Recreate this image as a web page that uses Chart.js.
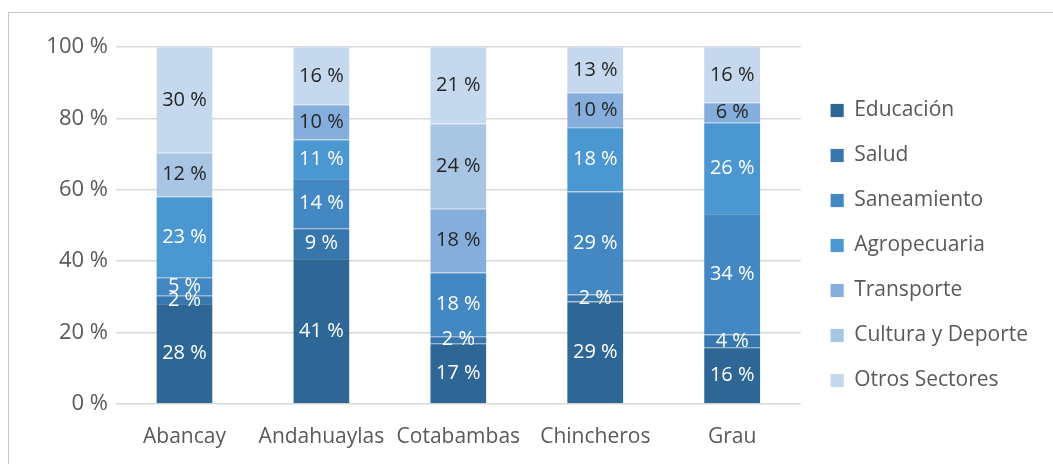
<!DOCTYPE html>
<html>
<head>
<meta charset="utf-8">
<script src="https://cdn.jsdelivr.net/npm/chart.js@4"></script>
<style>
	html, body { margin:0; padding:0; background:#fff; overflow:hidden; }
	#box { position:absolute; left:8px; top:12px; width:1044px; height:451px;
		border-top:1px solid #c6c6c6; border-left:1px solid #c6c6c6; }
</style>
</head>
<body>
<div id="box"><canvas id="myChart"></canvas></div>
<script>
var categories = ['Abancay', 'Andahuaylas', 'Cotabambas', 'Chincheros', 'Grau'];
var educacion    = [28.0, 40.6, 17.0, 28.7, 15.9];
var salud        = [2.3, 8.6, 2.0, 2.0, 3.6];
var saneamiento  = [5.2, 13.8, 17.8, 28.8, 33.7];
var agropecuaria = [22.6, 11.1, 0, 18.0, 25.6];
var transporte   = [0, 9.7, 17.9, 9.7, 5.6];
var cultura      = [12.3, 0, 23.9, 0, 0];
var otros        = [29.6, 16.2, 21.4, 12.8, 15.6];
var yTicks = [0, 20, 40, 60, 80, 100];

var fontFamily = "'Open Sans', sans-serif";
var textColor = '#595959';

function serie(label, data, color, edge, labelColor){
	return {
		label : label,
		data : data,
		backgroundColor : color,
		borderColor : edge,
		borderWidth : {top:1, bottom:0, left:0, right:0},
		borderSkipped : false,
		labelColor : labelColor
	};
}

var chartData = {
	labels : categories,
	datasets : [
		serie('Educación', educacion, '#2e6795', '#5081a8', '#fff'),
		serie('Salud', salud, '#3777ae', '#5e8dba', '#fff'),
		serie('Saneamiento', saneamiento, '#4388c3', '#689ecc', '#fff'),
		serie('Agropecuaria', agropecuaria, '#4a97d1', '#72acd9', '#fff'),
		serie('Transporte', transporte, '#85aedc', '#a0bfe3', '#262626'),
		serie('Cultura y Deporte', cultura, '#a9c5e4', '#bfd4eb', '#262626'),
		serie('Otros Sectores', otros, '#c5d8ee', '#d6e3f2', '#262626')
	]
};

// etiquetas de valor dentro de cada segmento
var valueLabels = {
	id : 'valueLabels',
	afterDatasetsDraw : function(chart){
		var ctx = chart.ctx;
		ctx.save();
		ctx.font = "20px " + fontFamily;
		ctx.textAlign = 'center';
		ctx.textBaseline = 'middle';
		chart.data.datasets.forEach(function(ds, i){
			var meta = chart.getDatasetMeta(i);
			meta.data.forEach(function(bar, j){
				var v = ds.data[j];
				if(!v) return;
				var p = bar.getProps(['x', 'y', 'base'], true);
				ctx.fillStyle = ds.labelColor;
				ctx.fillText(Math.round(v) + ' %', p.x, (p.y + p.base) / 2);
			});
		});
		ctx.restore();
	}
};

// ajusta la posicion de la leyenda
var legendShift = {
	id : 'legendShift',
	afterLayout : function(chart){
		if(chart.legend){
			chart.legend.left += 6;
			chart.legend.right += 6;
			chart.legend.top -= 10;
			chart.legend.bottom -= 10;
		}
	}
};

var ctx = document.getElementById('myChart').getContext('2d');
var myChart = new Chart(ctx, {
	type : 'bar',
	data : chartData,
	plugins : [valueLabels, legendShift],
	options : {
		responsive : true,
		maintainAspectRatio : false,
		animation : false,
		layout : { padding : {left:0, top:34, right:21, bottom:0} },
		plugins : {
			tooltip : { enabled:false },
			legend : {
				position : 'right',
				labels : {
					boxWidth : 13,
					boxHeight : 13,
					padding : 24,
					color : textColor,
					font : { family:fontFamily, size:21 }
				}
			}
		},
		datasets : {
			bar : { categoryPercentage : 1, barPercentage : 0.41 }
		},
		scales : {
			x : {
				stacked : true,
				grid : { display:false },
				border : { display:false },
				ticks : { color:textColor, padding:12, font:{ family:fontFamily, size:21 } },
				afterFit : function(scale){ scale.height = 60; }
			},
			y : {
				stacked : true,
				min : 0,
				max : 100,
				grid : { color:'#d9d9d9', lineWidth:1.5, drawTicks:false },
				border : { display:false },
				afterBuildTicks : function(scale){
					scale.ticks = yTicks.map(function(v){ return {value:v}; });
				},
				ticks : {
					color : textColor,
					padding : 8,
					font : { family:fontFamily, size:22 },
					callback : function(v){ return v + ' %'; }
				},
				afterFit : function(scale){ scale.width = 107; }
			}
		}
	}
});
</script>
</body>
</html>
